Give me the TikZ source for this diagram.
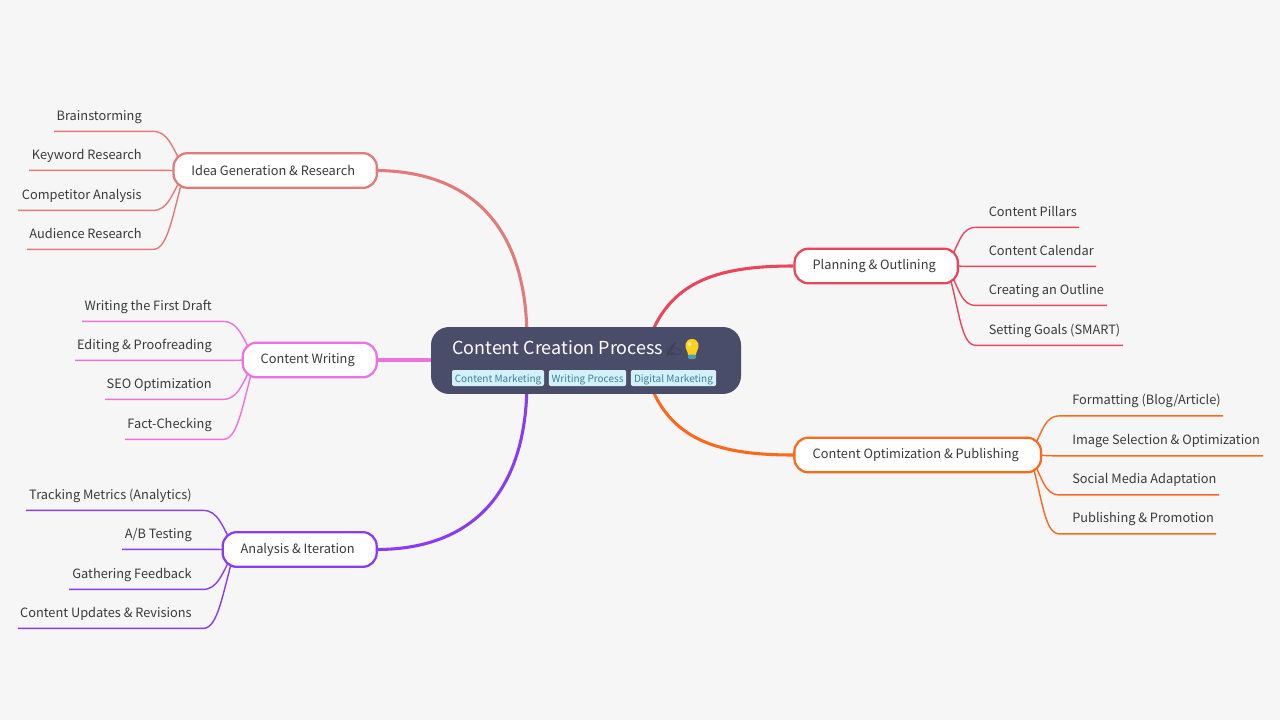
\documentclass[tikz,border=0pt]{standalone}
\usepackage{fontspec}
\usetikzlibrary{calc}
\setmainfont{Noto Sans CJK SC}
\newfontfamily\emojifont{Noto Emoji}
\pgfdeclarelayer{edges}
\pgfsetlayers{edges,main}
\definecolor{pagebg}{HTML}{F6F6F6}
\definecolor{rootfill}{HTML}{4A4D69}
\definecolor{tagfill}{HTML}{D3F1FA}
\definecolor{tagtext}{HTML}{3E7F96}
\definecolor{leaftext}{HTML}{3A3A3A}
\definecolor{handcol}{HTML}{3C3E52}
\definecolor{bulbyellow}{HTML}{FBD21E}
\definecolor{bulbbase}{HTML}{4F9FB0}
\definecolor{cidea}{HTML}{E17B7B}
\definecolor{cplan}{HTML}{E9455C}
\definecolor{copt}{HTML}{FB6A1C}
\definecolor{cwrite}{HTML}{EE72DC}
\definecolor{cana}{HTML}{8A3DEE}
\tikzset{
 x=0.75pt,y=-0.75pt,
 branchbox/.style={draw=#1,line width=1.7pt,fill=white,rounded corners=10.5pt,inner sep=0pt,text=leaftext,font=\fontsize{9.6}{12}\selectfont,execute at end node=\kern3pt},
 leaflabel/.style={inner sep=0pt,text=leaftext,font=\fontsize{9.6}{12}\selectfont},
 tagbox/.style={fill=tagfill,rounded corners=1.5pt,inner sep=0pt,text=tagtext,font=\fontsize{7.5}{10}\selectfont,text height=6pt,text depth=0pt},
 mainlink/.style={draw=#1,line width=2.3pt},
 leaflink/.style={draw=#1,line width=1.05pt},
}
% \leafLc{colour}{name}{hub}{text right x}{line y}{line left x}{text}{control dy}
\newcommand{\leafLc}[8]{%
 \node[leaflabel,anchor=base east] (#2) at (#4,#5-10.6) {#7};
 \coordinate (#2s) at (#6,#5+0.4);
 \coordinate (#2b) at (#4+11,#5+0.4);
 \begin{pgfonlayer}{edges}
 \draw[leaflink=#1] (#2s) -- (#2b) .. controls +(15,0) and ($(#3)+(-13,#8)$) .. (#3);
 \end{pgfonlayer}}
\newcommand{\leafRc}[8]{%
 \node[leaflabel,anchor=base west] (#2) at (#4-0.5,#5-10.6) {#7};
 \coordinate (#2s) at (#6,#5+0.4);
 \coordinate (#2b) at (#4-13,#5+0.4);
 \begin{pgfonlayer}{edges}
 \draw[leaflink=#1] (#2s) -- (#2b) .. controls +(-15,0) and ($(#3)+(13,#8)$) .. (#3);
 \end{pgfonlayer}}
\begin{document}
\begin{tikzpicture}
\useasboundingbox (0,0) rectangle (1280,720);
\begin{pgfonlayer}{edges}
\fill[pagebg] (0,0) rectangle (1280,720);
\end{pgfonlayer}
% root
\node[fill=rootfill,rounded corners=13.5pt,minimum width=232.5pt,minimum height=50.2pt,inner sep=0pt] (root) at (586,360.5) {};
\node[inner sep=0pt,anchor=base west,text=white,font=\fontsize{13.45}{18}\selectfont] (title) at (452,354) {Content Creation Process};
\node[inner sep=0pt,anchor=center,text=handcol,font=\fontsize{11}{12}\emojifont] (hand) at (674,349) {✍};
% bulb
\fill[bulbyellow] (687,351) .. controls (684,347) and (685,339) .. (692,339) .. controls (699,339) and (700,347) .. (697,351) .. controls (696,353) and (696,354) .. (696,355) -- (688,355) .. controls (688,354) and (688,353) .. (687,351) -- cycle;
\fill[white,opacity=.55] (689.5,344) circle[radius=2];
\fill[bulbbase,rounded corners=1pt] (688,354.5) rectangle (696,359);
\node[tagbox,minimum width=69pt,minimum height=12pt] (t1) at (498,378) {Content Marketing};
\node[tagbox,minimum width=58pt,minimum height=12pt] (t2) at (587.5,378) {Writing Process};
\node[tagbox,minimum width=64pt,minimum height=12pt] (t3) at (673.5,378) {Digital Marketing};
% branches
\node[branchbox=cidea,minimum width=152.5pt,minimum height=26pt] (idea) at (275.2,170.5) {Idea Generation \& Research};
\node[branchbox=cplan,minimum width=122.5pt,minimum height=26pt] (plan) at (876.2,266) {Planning \& Outlining};
\node[branchbox=copt,minimum width=185pt,minimum height=26pt] (opt) at (917.7,455) {Content Optimization \& Publishing};
\node[branchbox=cwrite,minimum width=100.5pt,minimum height=26pt] (write) at (309.7,360) {Content Writing};
\node[branchbox=cana,minimum width=115.5pt,minimum height=26pt] (ana) at (299.7,549.5) {Analysis \& Iteration};
\coordinate (hidea) at (185,170.5);
\coordinate (hplan) at (947,266);
\coordinate (hopt) at (1030,455);
\coordinate (hwrite) at (255,360);
\coordinate (hana) at (235,549.5);
\coordinate (rootTL) at (527,340);
\coordinate (rootBL) at (527,381);
\coordinate (rootTR) at (650,337);
\coordinate (rootBR) at (650,384);
\begin{pgfonlayer}{edges}
\draw[mainlink=cidea] (idea.east) .. controls (470,172) and (527,225) .. (rootTL);
\draw[mainlink=cplan] (plan.west) .. controls (720,266) and (672,280) .. (rootTR);
\draw[mainlink=copt] (opt.west) .. controls (720,455) and (672,441) .. (rootBR);
\draw[mainlink=cwrite] (write.east) -- (root.west |- write.east);
\draw[mainlink=cana] (ana.east) .. controls (470,549) and (527,495) .. (rootBL);
\end{pgfonlayer}
% idea leaves
\leafLc{cidea}{a1}{hidea}{142}{131}{54}{Brainstorming}{-24}
\leafLc{cidea}{a2}{hidea}{142}{170}{29}{Keyword Research}{0}
\leafLc{cidea}{a3}{hidea}{142}{210}{18}{Competitor Analysis}{24}
\leafLc{cidea}{a4}{hidea}{142}{249}{27}{Audience Research}{46}
% writing leaves
\leafLc{cwrite}{w1}{hwrite}{212}{321}{82}{Writing the First Draft}{-24}
\leafLc{cwrite}{w2}{hwrite}{212}{360}{75}{Editing \& Proofreading}{0}
\leafLc{cwrite}{w3}{hwrite}{212}{399}{105}{SEO Optimization}{24}
\leafLc{cwrite}{w4}{hwrite}{212}{439}{125}{Fact-Checking}{46}
% analysis leaves
\leafLc{cana}{n1}{hana}{192}{510}{26}{Tracking Metrics (Analytics)}{-24}
\leafLc{cana}{n2}{hana}{192}{549}{122}{A/B Testing}{0}
\leafLc{cana}{n3}{hana}{192}{589}{69}{Gathering Feedback}{24}
\leafLc{cana}{n4}{hana}{192}{628}{18}{Content Updates \& Revisions}{46}
% planning leaves
\leafRc{cplan}{p1}{hplan}{989}{227}{1079}{Content Pillars}{-24}
\leafRc{cplan}{p2}{hplan}{989}{266}{1096}{Content Calendar}{0}
\leafRc{cplan}{p3}{hplan}{989}{305}{1107}{Creating an Outline}{24}
\leafRc{cplan}{p4}{hplan}{989}{345}{1123}{Setting Goals (SMART)}{46}
% optimization leaves
\leafRc{copt}{o1}{hopt}{1072.5}{415.5}{1223}{Formatting (Blog/Article)}{-24}
\leafRc{copt}{o2}{hopt}{1072.5}{455.5}{1263}{Image Selection \& Optimization}{0}
\leafRc{copt}{o3}{hopt}{1072.5}{494.5}{1219}{Social Media Adaptation}{24}
\leafRc{copt}{o4}{hopt}{1072.5}{533.5}{1216}{Publishing \& Promotion}{46}
\end{tikzpicture}
\end{document}
